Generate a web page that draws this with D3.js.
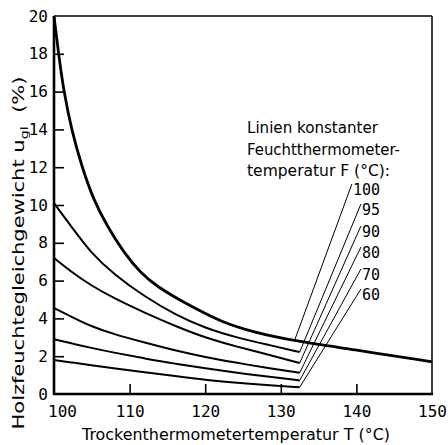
<!DOCTYPE html>
<html><head><meta charset="utf-8">
<script src="https://cdn.jsdelivr.net/npm/d3@7"></script>
<style>body{margin:0;background:#fff}</style>
</head><body><svg id="c" width="448" height="445"></svg>
<script>
// ---- data ----
const xTickValues = [100, 110, 120, 130, 140, 150];
const yTickValues = [0, 2, 4, 6, 8, 10, 12, 14, 16, 18, 20];

// thick boundary curve (F = 100)
const boundaryT = [100, 100.6, 101.3, 102.3, 103.7, 105.2, 107, 109.2, 111.5, 113.6, 116.7, 119.3, 122, 126, 132.3, 139.2, 150];
const boundaryU = [20, 18, 16, 14, 12, 10.3, 8.9, 7.5, 6.38, 5.7, 4.95, 4.4, 3.85, 3.3, 2.77, 2.38, 1.7];

// thin curves
const curveT = [100, 102.5, 104.8, 108, 112, 116, 120, 124.2, 128.6, 132.5];
const u95 = [10.1, 8.75, 7.5, 6.3, 5.15, 4.2, 3.48, 2.98, 2.58, 2.22];
const u90 = [7.2, 6.4, 5.77, 5.05, 4.3, 3.6, 2.98, 2.5, 2.06, 1.64];
const u80 = [4.55, 4.05, 3.6, 3.15, 2.72, 2.3, 1.95, 1.65, 1.35, 1.12];
const u70 = [2.9, 2.66, 2.45, 2.18, 1.88, 1.6, 1.36, 1.12, 0.9, 0.72];
const u60 = [1.8, 1.66, 1.53, 1.35, 1.15, 0.95, 0.75, 0.6, 0.46, 0.36];

const seriesLabels = ["100", "95", "90", "80", "70", "60"];
const leaderAnchorT = [131.8, 132.5, 132.5, 132.5, 132.5, 132.5];
const noteLines = ["Linien konstanter", "Feuchtthermometer-", "temperatur F (°C):"];
const xTitle = "Trockenthermometertemperatur T (°C)";

// ---- layout ----
const svg = d3.select("#c");
const L = 54, R = 432, T = 16, B = 394;
const x = d3.scaleLinear().domain([100, 150]).range([L, R]);
const y = d3.scaleLinear().domain([0, 20]).range([B, T]);
const mono = "'DejaVu Sans Mono', monospace";
const sans = "'DejaVu Sans', sans-serif";

// axes
const gy = svg.append("g").attr("transform", `translate(${L},0)`)
  .call(d3.axisLeft(y).tickValues(yTickValues).tickSizeInner(-10).tickSizeOuter(0).tickPadding(6).tickFormat(d3.format("d")));
const gx = svg.append("g").attr("transform", `translate(0,${B})`)
  .call(d3.axisBottom(x).tickValues(xTickValues).tickSizeInner(-10).tickSizeOuter(0).tickPadding(12).tickFormat(d3.format("d")));
[gy, gx].forEach(g => {
  g.select(".domain").remove();
  g.selectAll(".tick line").attr("stroke", "#000").attr("stroke-width", 1.6);
  g.selectAll(".tick text").attr("font-family", mono).attr("font-size", 16).attr("fill", "#000");
});
gy.selectAll(".tick").filter(d => d === 0 || d === 20).select("line").remove();
gx.selectAll(".tick").filter(d => d === 100 || d === 150).select("line").remove();
gx.selectAll(".tick").filter(d => d === 100).select("text").attr("dx", 8);

// frame
svg.append("line").attr("x1", L).attr("x2", R).attr("y1", T).attr("y2", T).attr("stroke", "#000").attr("stroke-width", 1.5);
svg.append("line").attr("x1", R).attr("x2", R).attr("y1", T).attr("y2", B).attr("stroke", "#000").attr("stroke-width", 1.5);
svg.append("line").attr("x1", L).attr("x2", L).attr("y1", T).attr("y2", B + 1).attr("stroke", "#000").attr("stroke-width", 2.6);
svg.append("line").attr("x1", L - 1).attr("x2", R + 1).attr("y1", B).attr("y2", B).attr("stroke", "#000").attr("stroke-width", 2.6);

// curves
const line = d3.line().x(d => x(d[0])).y(d => y(d[1])).curve(d3.curveBasis);
svg.append("path").datum(boundaryT.map((t, i) => [t, boundaryU[i]]))
  .attr("d", line).attr("fill", "none").attr("stroke", "#000").attr("stroke-width", 2.8);
const thin = [u95, u90, u80, u70, u60];
thin.forEach(us => {
  svg.append("path").datum(curveT.map((t, i) => [t, us[i]]))
    .attr("d", line).attr("fill", "none").attr("stroke", "#000").attr("stroke-width", 2);
});

// leader anchors (end of each curve)
const boundaryInterp = d3.scaleLinear().domain(boundaryT).range(boundaryU);
const anchorU = [boundaryInterp(leaderAnchorT[0])].concat(thin.map(us => us[us.length - 1]));

// annotation text
const noteX = 247, noteY0 = 133, noteDy = 21.5;
const noteLen = [131, 153, 143];
noteLines.forEach((s, i) => {
  svg.append("text").attr("x", noteX).attr("y", noteY0 + i * noteDy)
    .attr("font-family", sans).attr("font-size", 16).attr("fill", "#000")
    .attr("textLength", noteLen[i]).attr("lengthAdjust", "spacingAndGlyphs").text(s);
});

// labels + leaders
const labelRight = 380;
const labelBase = [195, 215, 237, 258, 280, 300];
seriesLabels.forEach((s, i) => {
  const t = svg.append("text").attr("x", labelRight).attr("y", labelBase[i])
    .attr("text-anchor", "end").attr("font-family", mono).attr("font-size", 15).attr("fill", "#000").text(s);
  const w = t.node().getComputedTextLength();
  svg.append("line")
    .attr("x1", x(leaderAnchorT[i])).attr("y1", y(anchorU[i]))
    .attr("x2", labelRight - w - 1).attr("y2", labelBase[i] - 11)
    .attr("stroke", "#000").attr("stroke-width", 1);
});

// axis titles
svg.append("text").attr("x", 236).attr("y", 440).attr("text-anchor", "middle")
  .attr("font-family", sans).attr("font-size", 16).attr("fill", "#000")
  .attr("textLength", 308).attr("lengthAdjust", "spacingAndGlyphs").text(xTitle);

const yt = svg.append("text").attr("transform", "translate(24,253) rotate(-90)")
  .attr("text-anchor", "middle").attr("font-family", sans).attr("font-size", 16).attr("fill", "#000")
  .attr("textLength", 353).attr("lengthAdjust", "spacingAndGlyphs");
yt.append("tspan").text("Holzfeuchtegleichgewicht u");
yt.append("tspan").attr("font-size", 11).attr("dy", 4).text("gl");
yt.append("tspan").attr("dy", -4).text("\u00a0\u00a0(%)");
</script></body></html>
